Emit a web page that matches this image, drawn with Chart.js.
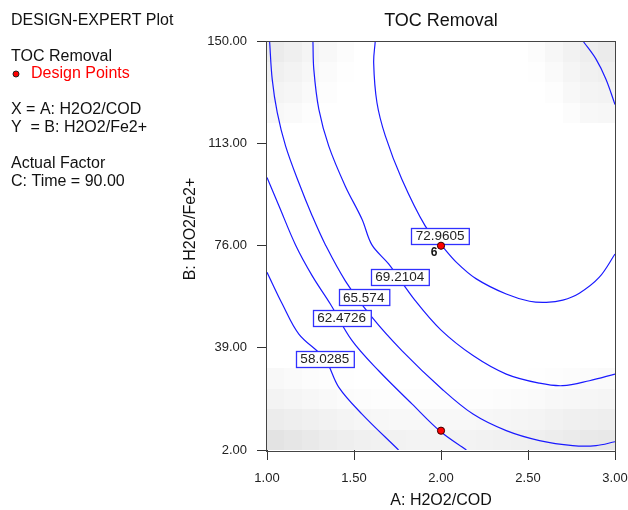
<!DOCTYPE html>
<html><head><meta charset="utf-8">
<script src="https://cdn.jsdelivr.net/npm/chart.js@4"></script>
<style>html,body{margin:0;padding:0;background:#fff}canvas{display:block}</style>
</head><body><canvas id="c" width="628" height="510"></canvas>
<script>
// ---- data ----
const xTicks = [1.00, 1.50, 2.00, 2.50, 3.00];
const yTicks = [2, 39, 76, 113, 150];

const contourLevels = ['58.0285', '62.4726', '65.574', '69.2104', '72.9605', '72.9605'];

const c58x = [1.000, 1.088, 1.183, 1.332, 1.413, 1.546, 1.756];
const c58y = [66.4, 54.9, 44.0, 35.0, 24.7, 15.0, 2.0];

const c62x = [1.000, 1.069, 1.164, 1.260, 1.364, 1.489, 1.642, 1.833, 1.995, 2.146];
const c62y = [100.7, 90.4, 76.3, 65.1, 54.9, 41.6, 30.7, 18.7, 8.8, 2.0];

const c65x = [1.015, 1.030, 1.059, 1.107, 1.183, 1.260, 1.336, 1.450, 1.603, 1.775, 2.005, 2.184, 2.375, 2.566, 2.757, 2.891, 3.000];
const c65y = [150, 136.3, 124.2, 112.1, 98.8, 86.8, 76.3, 63.3, 50.1, 38.0, 24.1, 15.0, 9.0, 5.4, 3.6, 3.6, 5.0];

const c69x = [1.264, 1.269, 1.298, 1.355, 1.450, 1.546, 1.603, 1.699, 1.852, 1.999, 2.184, 2.375, 2.566, 2.700, 2.853, 3.000];
const c69y = [150, 139.9, 125.4, 112.1, 97.6, 85.6, 76.3, 69.4, 56.1, 45.5, 36.2, 29.5, 26.2, 25.3, 27.1, 29.5];

const c73x = [1.622, 1.613, 1.632, 1.680, 1.775, 1.909, 2.000, 2.089, 2.203, 2.375, 2.509, 2.605, 2.700, 2.795, 2.910, 3.000];
const c73y = [150, 142.3, 127.8, 115.8, 100.1, 83.2, 76.4, 70.0, 64.0, 58.5, 55.9, 55.5, 56.3, 58.8, 64.6, 73.0];

const c73bx = [2.818, 2.891, 2.948, 3.000];
const c73by = [150, 143.6, 136.3, 127.2];

// contour label anchors (data units), one per labelled level
const labelX = [1.332, 1.429, 1.556, 1.763, 1.995];
const labelY = [35.0, 49.8, 57.3, 64.6, 79.6];

// design points
const designX = [2.00, 2.00];
const designY = [76, 9];
const designCount = [6, 1];

// background shading (grey level per grid cell, 20 columns of 0.1 x 7.4)
const shadeBottomRows = [
  [227,230,233,236,238,240,241,242,243,243,243,243,242,241,240,239,237,235,233,232],
  [236,238,240,242,244,246,247,248,248,248,248,248,247,246,245,244,242,240,239,238],
  [243,245,247,249,251,252,253,253,253,253,253,253,253,252,251,250,248,247,246,245],
  [248,250,252,253,254,255,255,255,255,255,255,255,255,255,255,254,253,252,251,250]
];
const shadeTopRows = [ // from top row downward
  [235,239,244,248,252,255,255,255,255,255,255,255,255,255,255,252,247,242,238,235],
  [240,243,247,251,254,255,255,255,255,255,255,255,255,255,255,254,250,245,241,239],
  [244,246,250,253,255,255,255,255,255,255,255,255,255,255,255,255,253,248,244,243],
  [248,250,253,255,255,255,255,255,255,255,255,255,255,255,255,255,255,252,248,247]
];

// ---- build datasets ----
const zip = (xs, ys) => xs.map((x, i) => ({x, y: ys[i]}));
const contourSets = [
  zip(c58x, c58y), zip(c62x, c62y), zip(c65x, c65y),
  zip(c69x, c69y), zip(c73x, c73y), zip(c73bx, c73by)
];
const BLUE = '#1a1aff';
const datasets = [{
  label: 'Design Points',
  data: zip(designX, designY),
  showLine: false,
  pointRadius: 3.6,
  pointBackgroundColor: '#ff0000',
  pointBorderColor: '#3a0000',
  pointBorderWidth: 1
}];
contourSets.forEach((d, i) => datasets.push({
  label: contourLevels[i],
  data: d,
  showLine: true,
  borderColor: BLUE,
  borderWidth: 1.2,
  pointRadius: 0,
  tension: 0.35,
  fill: false
}));

const FONT = "'Liberation Sans', Arial, sans-serif";

const overlay = {
  id: 'overlay',
  beforeDatasetsDraw(chart) {
    const ctx = chart.ctx, xs = chart.scales.x, ys = chart.scales.y;
    const paint = (rows, rowIndexFn) => {
      rows.forEach((row, r) => {
        const ri = rowIndexFn(r);
        row.forEach((g, c) => {
          if (g >= 255) return;
          const x0 = Math.round(xs.getPixelForValue(1 + c * 0.1));
          const x1 = Math.round(xs.getPixelForValue(1 + (c + 1) * 0.1));
          const y0 = Math.round(ys.getPixelForValue(2 + (ri + 1) * 7.4));
          const y1 = Math.round(ys.getPixelForValue(2 + ri * 7.4));
          ctx.fillStyle = `rgb(${g},${g},${g})`;
          ctx.fillRect(x0, y0, x1 - x0, y1 - y0);
        });
      });
    };
    ctx.save();
    paint(shadeBottomRows, r => r);
    paint(shadeTopRows, r => 19 - r);
    ctx.restore();
  },
  afterDatasetDraw(chart, args) {
    if (args.index !== 1) return;
    const ctx = chart.ctx, xs = chart.scales.x, ys = chart.scales.y;
    ctx.save();
    ctx.font = `13.5px ${FONT}`;
    ctx.textAlign = 'center';
    ctx.textBaseline = 'middle';
    labelX.forEach((lx, i) => {
      const px = xs.getPixelForValue(lx), py = ys.getPixelForValue(labelY[i]);
      const t = contourLevels[i];
      const w = ctx.measureText(t).width + 9, h = 16;
      const bx = Math.round(px - w / 2) + 0.5, by = Math.round(py - h / 2) + 0.5;
      ctx.fillStyle = '#fff';
      ctx.fillRect(bx, by, w, h);
      ctx.strokeStyle = '#3030ff';
      ctx.lineWidth = 1.3;
      ctx.strokeRect(bx, by, w, h);
      ctx.fillStyle = '#222';
      ctx.fillText(t, px, py + 0.5);
    });
    ctx.restore();
  },
  afterDraw(chart) {
    const ctx = chart.ctx, a = chart.chartArea, xs = chart.scales.x, ys = chart.scales.y;
    ctx.save();
    // frame
    ctx.strokeStyle = '#444';
    ctx.lineWidth = 1;
    ctx.strokeRect(Math.round(a.left) - 0.5, Math.round(a.top) - 0.5,
                   Math.round(a.right - a.left) + 1, Math.round(a.bottom - a.top) + 1);
    // replicate count next to design point
    ctx.fillStyle = '#111';
    ctx.font = `bold 12px ${FONT}`;
    ctx.textAlign = 'center';
    ctx.textBaseline = 'middle';
    designX.forEach((dx, i) => {
      if (designCount[i] > 1) {
        ctx.fillText(String(designCount[i]),
          xs.getPixelForValue(dx) - 7, ys.getPixelForValue(designY[i]) + 7);
      }
    });
    // title
    ctx.fillStyle = '#111';
    ctx.font = `18px ${FONT}`;
    ctx.fillText('TOC Removal', (a.left + a.right) / 2, 21);
    // axis titles
    ctx.font = `16px ${FONT}`;
    ctx.fillText('A: H2O2/COD', (a.left + a.right) / 2, 501);
    ctx.save();
    ctx.translate(191, 229);
    ctx.rotate(-Math.PI / 2);
    ctx.fillText('B: H2O2/Fe2+', 0, 0);
    ctx.restore();
    // left info panel
    ctx.textAlign = 'left';
    ctx.font = `16px ${FONT}`;
    ctx.fillStyle = '#111';
    ctx.fillText('DESIGN-EXPERT Plot', 11, 21);
    ctx.fillText('TOC Removal', 11, 57);
    ctx.fillText('X = A: H2O2/COD', 11, 110);
    ctx.fillText('Y  = B: H2O2/Fe2+', 11, 128);
    ctx.fillText('Actual Factor', 11, 164);
    ctx.fillText('C: Time = 90.00', 11, 182);
    ctx.fillStyle = '#ff0000';
    ctx.fillText('Design Points', 31, 74);
    ctx.beginPath();
    ctx.arc(16, 74, 3, 0, Math.PI * 2);
    ctx.fillStyle = '#ff0000';
    ctx.fill();
    ctx.strokeStyle = '#222';
    ctx.lineWidth = 1;
    ctx.stroke();
    ctx.restore();
  }
};

new Chart(document.getElementById('c'), {
  type: 'scatter',
  data: { datasets },
  options: {
    responsive: false,
    animation: false,
    devicePixelRatio: 1,
    layout: { padding: { left: 0, top: 41.5, right: 13, bottom: 0 } },
    plugins: { legend: { display: false }, tooltip: { enabled: false }, title: { display: false } },
    scales: {
      x: {
        type: 'linear', min: 1, max: 3,
        afterBuildTicks: s => { s.ticks = xTicks.map(v => ({ value: v })); },
        afterFit: s => { s.height = 60; s.paddingLeft = 0; s.paddingRight = 0; },
        ticks: { callback: v => Number(v).toFixed(2), font: { size: 13, family: FONT }, color: '#222', padding: 11, maxRotation: 0, autoSkip: false },
        grid: { drawOnChartArea: false, drawTicks: true, tickLength: 10, color: '#333' },
        border: { display: false }
      },
      y: {
        type: 'linear', min: 2, max: 150,
        afterBuildTicks: s => { s.ticks = yTicks.map(v => ({ value: v })); },
        afterFit: s => { s.width = 267; s.paddingTop = 0; s.paddingBottom = 0; },
        ticks: { callback: v => Number(v).toFixed(2), font: { size: 13, family: FONT }, color: '#222', padding: 10, autoSkip: false },
        grid: { drawOnChartArea: false, drawTicks: true, tickLength: 10, color: '#333' },
        border: { display: false }
      }
    }
  },
  plugins: [overlay]
});
</script>
</body></html>
